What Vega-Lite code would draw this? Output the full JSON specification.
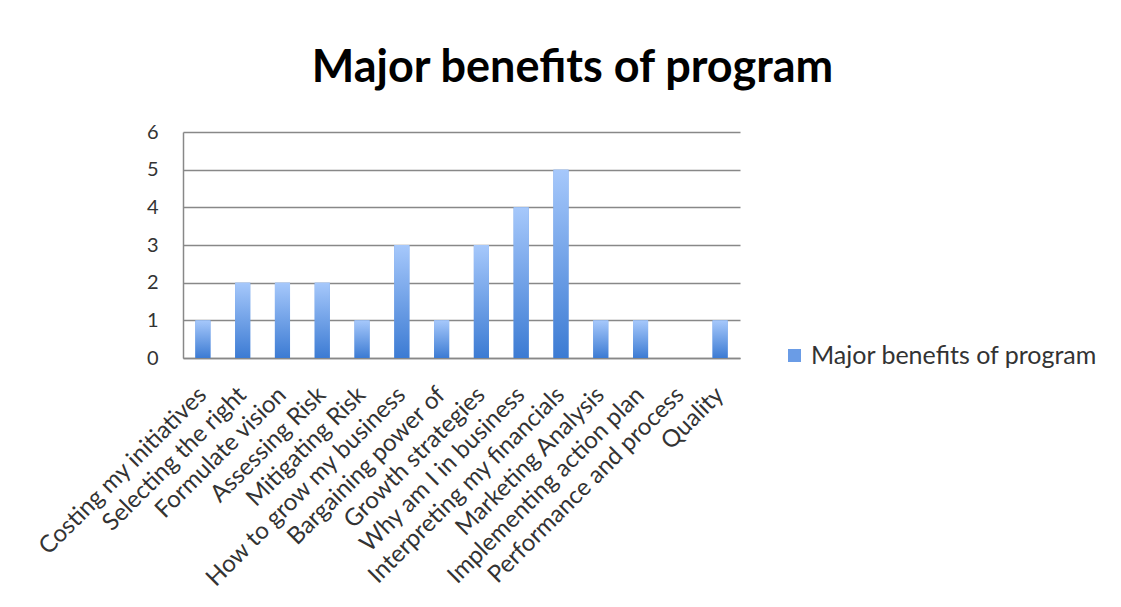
{
  "$schema": "https://vega.github.io/schema/vega-lite/v6.json",
  "autosize": "none",
  "width": 557,
  "height": 226,
  "padding": {"left": 183, "top": 132, "right": 381, "bottom": 249},
  "background": "white",
  "title": {
    "text": "Major benefits of program",
    "anchor": "middle",
    "frame": "group",
    "dx": 111,
    "offset": 31,
    "font": "Lato",
    "fontSize": 45,
    "fontWeight": "bold",
    "color": "#000000"
  },
  "data": {
    "values": [
      {"benefit": "Costing my initiatives", "count": 1, "series": "Major benefits of program"},
      {"benefit": "Selecting the right", "count": 2, "series": "Major benefits of program"},
      {"benefit": "Formulate vision", "count": 2, "series": "Major benefits of program"},
      {"benefit": "Assessing Risk", "count": 2, "series": "Major benefits of program"},
      {"benefit": "Mitigating Risk", "count": 1, "series": "Major benefits of program"},
      {"benefit": "How to grow my business", "count": 3, "series": "Major benefits of program"},
      {"benefit": "Bargaining power of", "count": 1, "series": "Major benefits of program"},
      {"benefit": "Growth strategies", "count": 3, "series": "Major benefits of program"},
      {"benefit": "Why am I in business", "count": 4, "series": "Major benefits of program"},
      {"benefit": "Interpreting my financials", "count": 5, "series": "Major benefits of program"},
      {"benefit": "Marketing Analysis", "count": 1, "series": "Major benefits of program"},
      {"benefit": "Implementing action plan", "count": 1, "series": "Major benefits of program"},
      {"benefit": "Performance and process", "count": 0, "series": "Major benefits of program"},
      {"benefit": "Quality", "count": 1, "series": "Major benefits of program"}
    ]
  },
  "encoding": {
    "x": {
      "field": "benefit",
      "type": "nominal",
      "sort": null,
      "scale": {"paddingInner": 0.62, "paddingOuter": 0.31},
      "axis": {
        "title": null,
        "labelAngle": -45,
        "labelAlign": "right",
        "labelBaseline": "middle",
        "labelPadding": 33,
        "labelFont": "Lato",
        "labelFontSize": 24,
        "labelColor": "#333333",
        "labelLimit": 400,
        "labelOverlap": false,
        "ticks": false,
        "domainColor": "#888888",
        "domainWidth": 1.5,
        "grid": false
      }
    },
    "y": {
      "field": "count",
      "type": "quantitative",
      "scale": {"domain": [0, 6], "nice": false},
      "axis": {
        "title": null,
        "values": [0, 1, 2, 3, 4, 5, 6],
        "labelFont": "Lato",
        "labelFontSize": 20,
        "labelColor": "#333333",
        "labelPadding": 25,
        "ticks": false,
        "domainColor": "#888888",
        "domainWidth": 1.5,
        "gridColor": "#888888",
        "gridWidth": 1.5
      }
    }
  },
  "layer": [
    {
      "mark": {"type": "bar"},
      "encoding": {
        "color": {
          "field": "series",
          "type": "nominal",
          "scale": {"range": ["#6a9ce6"]},
          "legend": {
            "title": null,
            "orient": "none",
            "legendX": 599,
            "legendY": 211,
            "symbolType": "square",
            "symbolSize": 169,
            "symbolStrokeWidth": 0,
            "labelFont": "Lato",
            "labelFontSize": 25,
            "labelColor": "#333333",
            "labelLimit": 400
          }
        }
      }
    },
    {
      "mark": {
        "type": "bar",
        "fill": {
          "gradient": "linear",
          "x1": 0, "y1": 0, "x2": 0, "y2": 1,
          "stops": [
            {"offset": 0, "color": "#a6c8fb"},
            {"offset": 1, "color": "#3c7bd3"}
          ]
        }
      }
    }
  ],
  "config": {
    "view": {"stroke": null}
  }
}
